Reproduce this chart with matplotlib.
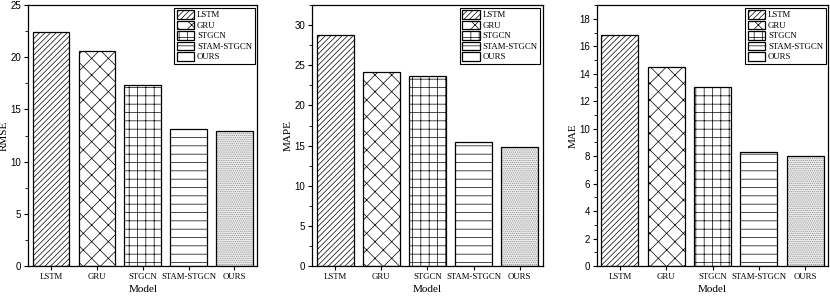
import numpy as np
import matplotlib
matplotlib.use('Agg')
import matplotlib.pyplot as plt
from matplotlib.ticker import AutoMinorLocator

# Model names and metric values
models = ['LSTM', 'GRU', 'STGCN', 'STAM-STGCN', 'OURS']
rmse = [22.4, 20.6, 17.3, 13.1, 12.9]
mape = [28.8, 24.2, 23.7, 15.5, 14.8]
mae = [16.8, 14.5, 13.0, 8.3, 8.0]

hatches = ['//////', 'xx', '++', '--', '........']

plt.rcParams['hatch.linewidth'] = 0.5
plt.rcParams['font.family'] = 'Liberation Serif'

fig = plt.figure(figsize=(8.3, 2.97), dpi=100)

panels = [
    (rmse, 'RMSE', [0.034, 0.104, 0.276, 0.879], 25, 5),
    (mape, 'MAPE', [0.376, 0.104, 0.278, 0.879], 32.5, 5),
    (mae, 'MAE', [0.719, 0.104, 0.279, 0.879], 19, 2),
]

x = np.arange(len(models))
for values, label, rect, ymax, step in panels:
    ax = fig.add_axes(rect)
    for i, (m, v) in enumerate(zip(models, values)):
        if m == 'OURS':
            # grey stipple for the last bar, black outline on top
            ax.bar(x[i], v, width=0.8, color='#ebebeb', edgecolor='#8c8c8c',
                   hatch=hatches[i], linewidth=0)
            ax.bar(x[i], v, width=0.8, fill=False, edgecolor='black',
                   linewidth=0.9, label=m)
        else:
            ax.bar(x[i], v, width=0.8, color='white', edgecolor='black',
                   hatch=hatches[i], linewidth=0.9, label=m)

    ax.set_xlim(-0.5, 4.5)
    ax.set_ylim(0, ymax)
    ax.set_yticks(np.arange(0, ymax + 0.01, step))
    ax.yaxis.set_minor_locator(AutoMinorLocator(2))
    ax.set_xticks(x)
    ax.set_xticklabels(models, fontsize=6.3)
    for t in ax.get_yticklabels():
        t.set_fontfamily('Liberation Sans')
        t.set_fontsize(7)
    ax.tick_params(direction='out', length=3, width=0.8, pad=2)
    ax.tick_params(which='minor', direction='out', length=2, width=0.6)
    ax.set_ylabel(label, fontsize=8, labelpad=1)
    ax.set_xlabel('Model', fontsize=8, labelpad=3)
    for s in ax.spines.values():
        s.set_linewidth(0.9)

    handles, labels = ax.get_legend_handles_labels()
    leg = ax.legend(handles, labels, loc='upper right', fontsize=6.3,
                    fancybox=False, edgecolor='black', framealpha=1,
                    handlelength=2.0, handleheight=1.1, labelspacing=0.15,
                    borderpad=0.3, handletextpad=0.3, borderaxespad=0.3)
    leg.get_frame().set_linewidth(0.8)

fig.savefig('out.png', dpi=100)
